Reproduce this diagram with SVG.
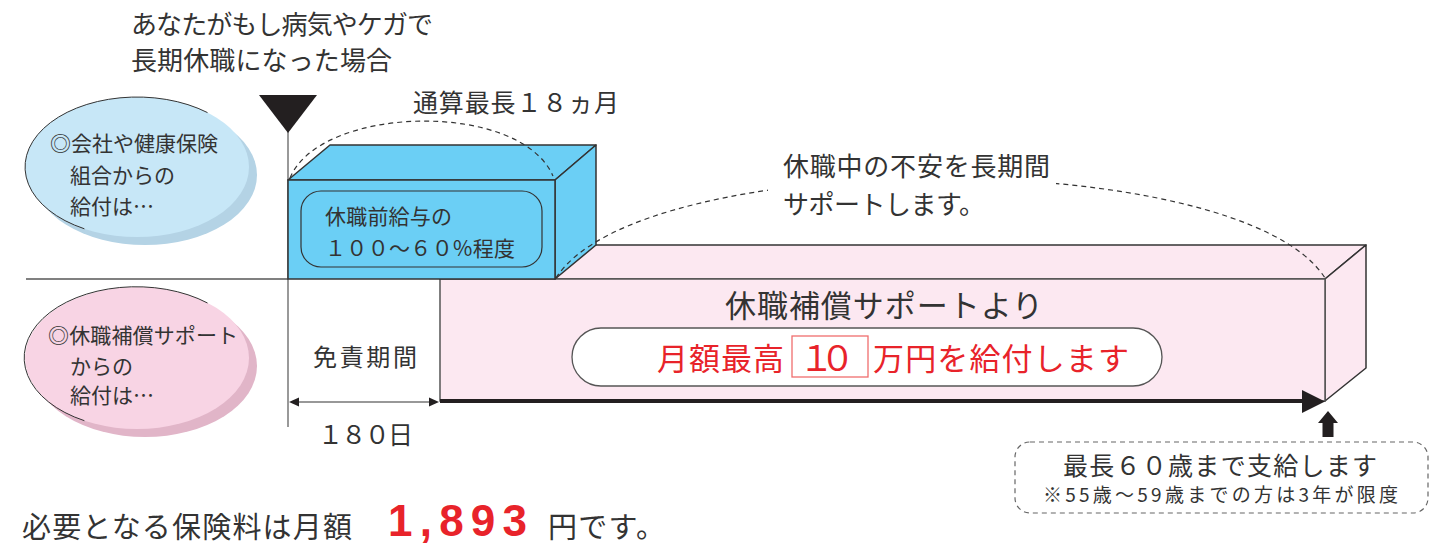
<svg xmlns="http://www.w3.org/2000/svg" width="1439" height="546" viewBox="0 0 1439 546">
<style>
.t{font-family:"Noto Sans CJK JP","Noto Sans",sans-serif;fill:#333;}
.r{font-family:"Noto Sans CJK JP","Noto Sans",sans-serif;fill:#e8232a;}
.dash{fill:none;stroke:#333;stroke-width:1.2;stroke-dasharray:5 4;}
.edge{stroke:#333;stroke-width:1.5;stroke-linejoin:round;}
</style>
<defs>
<mask id="m2">
<rect x="0" y="0" width="1439" height="546" fill="#fff"/>
<rect x="768" y="140" width="288" height="85" fill="#000"/>
</mask>
</defs>
<rect width="1439" height="546" fill="#fff"/>

<g id="title">
<text class="t" x="131" y="34" font-size="26" textLength="302">あなたがもし病気やケガで</text>
<text class="t" x="131" y="70" font-size="26" textLength="261">長期休職になった場合</text>
</g>

<g id="ellipse-company">
<ellipse cx="145" cy="175" rx="112" ry="70" fill="#b4d3e5"/>
<ellipse cx="137" cy="167" rx="112" ry="70" fill="#c7e7f7"/>
<path d="M207.5,112.6 A112,70 0 1 0 84.4,228.8" fill="none" stroke="#333" stroke-width="1"/>
<text class="t" x="50" y="151" font-size="21" textLength="168">◎会社や健康保険</text>
<text class="t" x="70" y="183" font-size="21">組合からの</text>
<text class="t" x="70" y="214" font-size="21">給付は…</text>
</g>

<g id="ellipse-support">
<ellipse cx="145" cy="366" rx="112" ry="71" fill="#e1b5c8"/>
<ellipse cx="137" cy="358" rx="112" ry="71" fill="#f8d4e4"/>
<path d="M207.5,303 A112,71 0 1 0 84.4,420.7" fill="none" stroke="#333" stroke-width="1"/>
<text class="t" x="48" y="343" font-size="21" textLength="190">◎休職補償サポート</text>
<text class="t" x="70" y="374" font-size="21">からの</text>
<text class="t" x="70" y="403" font-size="21">給付は…</text>
</g>

<g id="axes">
<line x1="26" y1="279" x2="288" y2="279" stroke="#808080" stroke-width="2"/>
<line x1="288" y1="130" x2="288" y2="427" stroke="#555" stroke-width="1.2"/>
<polygon points="259,95 317,95 288,133" fill="#231f20"/>
</g>

<g id="pink-box">
<polygon class="edge" points="440,279 481,245 1366,245 1325,279" fill="#fce8f1"/>
<polygon class="edge" points="1325,279 1366,245 1366,368 1325,401" fill="#fce8f1"/>
<rect x="440" y="279" width="885" height="122" fill="#fce8f1" stroke="#555" stroke-width="1.5"/>
<text class="t" x="725" y="317" font-size="31" textLength="318">休職補償サポートより</text>
<rect x="572" y="328" width="590" height="58" rx="29" fill="#fff" stroke="#555" stroke-width="1.3"/>
<text class="r" x="657" y="370" font-size="31" textLength="127">月額最高</text>
<rect x="792" y="336" width="76" height="41" fill="#fff" stroke="#f06e6e" stroke-width="1.3"/>
<text class="r" x="799" y="371" font-size="35" textLength="56">１０</text>
<text class="r" x="873" y="370" font-size="31" textLength="256">万円を給付します</text>
</g>

<g id="blue-box">
<polygon class="edge" points="288,180 330,145 596,145 555,180" fill="#6bcff5"/>
<polygon class="edge" points="555,180 596,145 596,245 555,279" fill="#6bcff5"/>
<rect x="288" y="180" width="267" height="99" fill="#6bcff5" stroke="#333" stroke-width="1.5"/>
<rect x="301" y="191" width="241" height="76" rx="20" fill="none" stroke="#333" stroke-width="1.2"/>
<text class="t" x="325" y="224" font-size="21" textLength="127">休職前給与の</text>
<text class="t" x="325" y="256" font-size="21" textLength="190">１００～６０%程度</text>
</g>

<g id="connectors">
<path class="dash" d="M290,178 C320,105 520,100 553,176"/>
<path class="dash" d="M556,278 C640,145 1240,145 1325,278" mask="url(#m2)"/>
<line x1="296" y1="402" x2="432" y2="402" stroke="#333" stroke-width="1.2"/>
<polygon points="289,402 299,397.5 299,406.5" fill="#231f20"/>
<polygon points="439,402 429,397.5 429,406.5" fill="#231f20"/>
<line x1="440" y1="401" x2="1304" y2="401" stroke="#231f20" stroke-width="4"/>
<polygon points="1302,390 1325,401.5 1302,413" fill="#231f20"/>
<polygon points="1328,411 1338,423 1333.5,423 1333.5,437 1322.5,437 1322.5,423 1318,423" fill="#231f20"/>
</g>

<g id="labels">
<text class="t" x="413" y="112" font-size="25" textLength="206">通算最長１８ヵ月</text>
<text class="t" x="783" y="176" font-size="26" textLength="267">休職中の不安を長期間</text>
<text class="t" x="783" y="214" font-size="26" textLength="202">サポートします。</text>
<text class="t" x="313" y="366" font-size="24" textLength="104">免責期間</text>
<text class="t" x="318" y="444" font-size="25" textLength="95">１８０日</text>
</g>

<g id="note">
<rect x="1015" y="442" width="413" height="71" rx="15" fill="#fff" stroke="#666" stroke-width="1.2" stroke-dasharray="5 4"/>
<text class="t" x="1063" y="475" font-size="25" textLength="314">最長６０歳まで支給します</text>
<text class="t" x="1043" y="502" font-size="19" textLength="355">※55歳～59歳までの方は3年が限度</text>
</g>

<g id="footer">
<text class="t" x="22" y="538" font-size="29" textLength="330">必要となる保険料は月額</text>
<text x="388" y="536" font-family="Liberation Sans, Arial, sans-serif" font-weight="bold" font-size="44" fill="#e8232a" textLength="139">1,893</text>
<text class="t" x="548" y="538" font-size="29" textLength="117">円です。</text>
</g>
</svg>
